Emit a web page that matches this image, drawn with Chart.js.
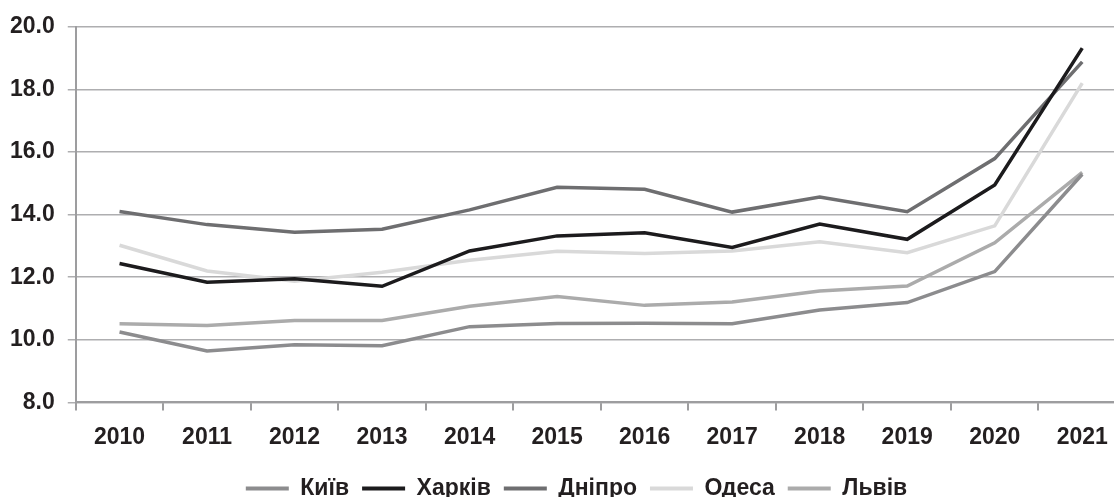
<!DOCTYPE html>
<html>
<head>
<meta charset="utf-8">
<script src="https://cdn.jsdelivr.net/npm/chart.js@4"></script>
<style>
  html, body { margin: 0; padding: 0; background: #fff; overflow: hidden; }
  #clip { width: 1114px; height: 497px; overflow: hidden; }
  #wrap { width: 1129px; height: 510px; margin-left: -3px; position: relative; }
</style>
</head>
<body>
<div id="clip"><div id="wrap"><canvas id="myChart"></canvas></div></div>
<script>
// years on the x axis
var years = ['2010', '2011', '2012', '2013', '2014', '2015', '2016', '2017', '2018', '2019', '2020', '2021'];

// values per city
var kyiv    = [10.25, 9.64, 9.84, 9.81, 10.42, 10.52, 10.53, 10.51, 10.95, 11.19, 12.18, 15.29];
var kharkiv = [12.44, 11.84, 11.95, 11.71, 12.84, 13.32, 13.42, 12.95, 13.70, 13.21, 14.95, 19.32];
var dnipro  = [14.10, 13.68, 13.44, 13.53, 14.15, 14.87, 14.81, 14.08, 14.56, 14.09, 15.79, 18.88];
var odesa   = [13.02, 12.20, 11.87, 12.16, 12.54, 12.83, 12.76, 12.84, 13.13, 12.78, 13.64, 18.20];
var lviv    = [10.51, 10.46, 10.62, 10.62, 11.07, 11.38, 11.10, 11.21, 11.56, 11.72, 13.10, 15.35];

var yMin = 8, yMax = 20, yStep = 2;

var font = { family: '"Liberation Sans", Arial, sans-serif', size: 23, weight: 'bold' };

function series(label, data, color) {
    return {
        label: label,
        data: data,
        borderColor: color,
        backgroundColor: color,
        borderWidth: 3.5,
        pointRadius: 0,
        tension: 0
    };
}

// legend in the picture sits a bit right of centre
var legendShift = {
    id: 'legendShift',
    afterLayout: function(chart) {
        chart.legend.left += 15;
        chart.legend.right += 15;
    }
};

window.addEventListener('DOMContentLoaded', function() {
    var ctx = document.getElementById('myChart').getContext('2d');

    var chart = new Chart(ctx, {
        type: 'line',
        data: {
            labels: years,
            datasets: [
                series('Київ', kyiv, '#8c8c8e'),
                series('Харків', kharkiv, '#1c1b1d'),
                series('Дніпро', dnipro, '#6e6e70'),
                series('Одеса', odesa, '#d9d9d9'),
                series('Львів', lviv, '#ababab')
            ]
        },
        plugins: [legendShift],
        options: {
            responsive: true,
            maintainAspectRatio: false,
            animation: false,
            layout: { padding: { left: 0, top: 9, right: 0, bottom: 0 } },
            plugins: {
                tooltip: { enabled: false },
                legend: {
                    position: 'bottom',
                    labels: {
                        font: font,
                        color: '#231f20',
                        boxWidth: 43,
                        boxHeight: 4,
                        padding: 13,
                        generateLabels: function(chart) {
                            var items = Chart.defaults.plugins.legend.labels.generateLabels(chart);
                            items.forEach(function(it) {
                                it.fillStyle = it.strokeStyle;
                                it.lineWidth = 0;
                            });
                            return items;
                        }
                    }
                }
            },
            scales: {
                x: {
                    offset: true,
                    grid: {
                        offset: true,
                        drawOnChartArea: false,
                        tickLength: 8,
                        color: '#9d9d9f',
                        lineWidth: 2
                    },
                    border: { color: '#9d9d9f', width: 2 },
                    ticks: { font: font, color: '#231f20', padding: 13, maxRotation: 0 }
                },
                y: {
                    min: yMin,
                    max: yMax,
                    grid: {
                        tickLength: 8,
                        color: '#aeaeb0',
                        lineWidth: 1.5
                    },
                    border: { color: '#9d9d9f', width: 2 },
                    ticks: {
                        stepSize: yStep,
                        font: font,
                        color: '#231f20',
                        padding: 13,
                        callback: function(v) { return v.toFixed(1); }
                    }
                }
            }
        }
    });
});
</script>
</body>
</html>
